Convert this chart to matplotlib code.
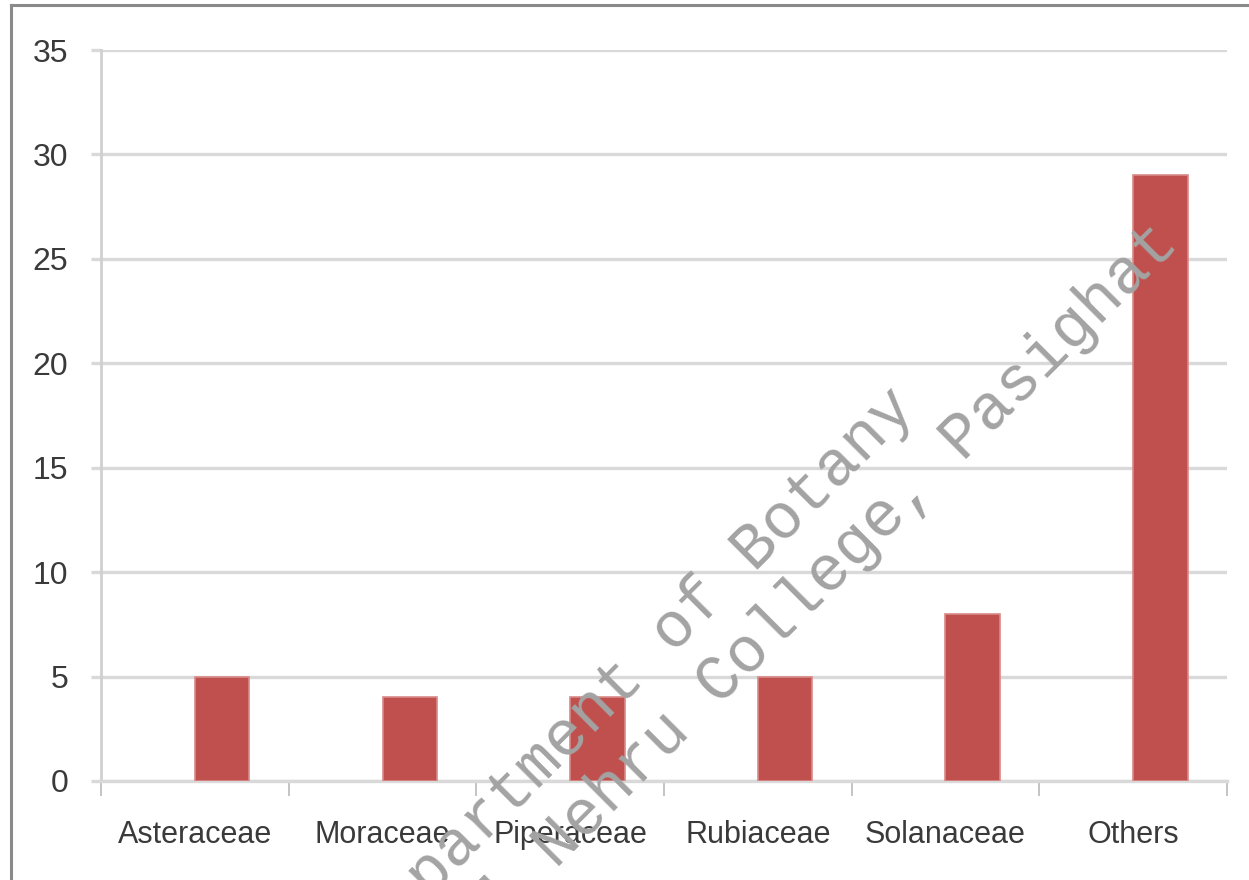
import numpy as np
import matplotlib
matplotlib.use("Agg")
import matplotlib.pyplot as plt
from matplotlib.lines import Line2D

families = ["Asteraceae", "Moraceae", "Piperaceae", "Rubiaceae", "Solanaceae", "Others"]
counts = [5, 4, 4, 5, 8, 29]
yticks = [0, 5, 10, 15, 20, 25, 30, 35]

plt.rcParams['font.family'] = ['Liberation Sans', 'DejaVu Sans']

W, H = 1249, 880
fig = plt.figure(figsize=(W / 100, H / 100), dpi=100)
ax = fig.add_axes([101 / W, 1 - 781 / H, (1227 - 101) / W, (781 - 50) / H])

x = np.arange(len(families))
# bars sit right of the slot centre (clustered layout with one visible series)
ax.bar(x + 0.145, counts, width=0.29, color='#c0504d', edgecolor='#d88a88',
       linewidth=1.2, zorder=3)

ax.set_xlim(-0.5, len(families) - 0.5)
ax.set_ylim(0, 35)
ax.set_yticks(yticks)
ax.set_yticklabels([str(v) for v in yticks])
ax.set_xticks(x)
ax.set_xticklabels(families)
ax.set_xticks(np.arange(-0.5, len(families)), minor=True)

ax.grid(axis='y', color='#d9d9d9', linewidth=2.4, zorder=1)
ax.tick_params(axis='y', length=7.5, width=2.4, color='#d9d9d9', pad=16,
               labelsize=23, labelcolor='#3a3a3a')
ax.tick_params(axis='x', which='major', length=0, pad=28,
               labelsize=22, labelcolor='#3a3a3a')
ax.tick_params(axis='x', which='minor', length=11, width=1.4, color='#c4c4c4')

for s in ['top', 'right']:
    ax.spines[s].set_visible(False)
ax.spines['left'].set_color('#d0d0d0')
ax.spines['left'].set_linewidth(2)
ax.spines['bottom'].set_color('#d9d9d9')
ax.spines['bottom'].set_linewidth(2.4)
ax.set_axisbelow(True)

# picture frame (left and top edge)
fig.add_artist(Line2D([11 / W, 11 / W], [0, 1 - 5 / H], color='#8a8a8a', linewidth=2.2))
fig.add_artist(Line2D([11 / W, 1], [1 - 5 / H, 1 - 5 / H], color='#8a8a8a', linewidth=2.2))

# watermark
wm = dict(family=['Liberation Mono', 'DejaVu Sans Mono'], fontsize=46, color='#a3a3a3',
          rotation=45, rotation_mode='anchor', ha='right', va='baseline', zorder=10)
fig.text(918 / W, 1 - 410 / H, "Department of Botany", **wm)
fig.text(1180 / W, 1 - 245 / H, "Jawaharlal Nehru College, Pasighat", **wm)

fig.savefig("out.png", dpi=100)
